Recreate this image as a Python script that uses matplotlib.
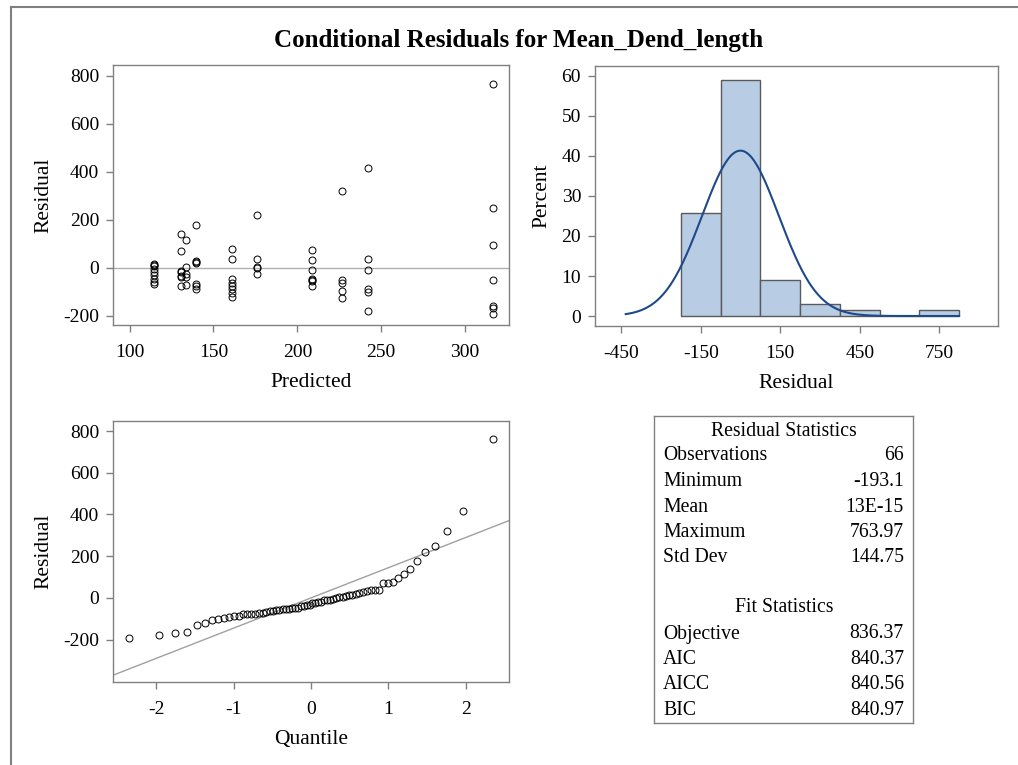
from statistics import NormalDist
import numpy as np
import matplotlib.pyplot as plt
from matplotlib.lines import Line2D

W, H = 1018, 765

# predicted values (columns of points) and their conditional residuals
predicted_levels = [114.3, 130.4, 133.7, 139.3, 161.1, 175.8, 208.7, 226.8, 242.3, 316.7]
residuals_by_level = [
    [15, 12, 7, -5, -18, -32, -48, -60, -70],
    [140, 71, -12, -18, -35, -40, -78],
    [117, 3, -26, -37, -72],
    [176, 29, 24, 18, -68, -76, -87],
    [76, 36, -47, -65, -78, -90, -106, -121],
    [219, 36, 3, -1, -25],
    [72, 31, -11, -46, -51, -57, -78],
    [319, -53, -64, -97, -128],
    [417, 36, -8, -89, -103, -179],
    [764, 250, 96, -51, -161, -168, -193],
]

# histogram of residuals (percent per bin, bin width 150)
hist_mid = [-150, 0, 150, 300, 450, 600, 750]
hist_pct = [25.76, 59.09, 9.09, 3.03, 1.52, 0.0, 1.52]
bin_width = 150

# summary tables
resid_labels = ["Observations", "Minimum", "Mean", "Maximum", "Std Dev"]
resid_values = ["66", "-193.1", "13E-15", "763.97", "144.75"]
fit_labels = ["Objective", "AIC", "AICC", "BIC"]
fit_values = ["836.37", "840.37", "840.56", "840.97"]
resid_mean = 0.0
resid_std = 144.75

plt.rcParams['font.family'] = ['Liberation Serif', 'DejaVu Serif']
plt.rcParams['axes.unicode_minus'] = False
GRAY = '#808080'
TICK_FS = 14
LABEL_FS = 15.5

x_pred = np.concatenate([[p] * len(r) for p, r in zip(predicted_levels, residuals_by_level)])
y_res = np.concatenate([np.array(r, dtype=float) for r in residuals_by_level])

fig = plt.figure(figsize=(W / 100, H / 100), dpi=100)


def px_axes(l, t, r, b):
    return fig.add_axes([l / W, 1 - b / H, (r - l) / W, (b - t) / H])


def style(ax):
    for s in ax.spines.values():
        s.set_color(GRAY)
        s.set_linewidth(1)
    ax.tick_params(direction='out', length=5, width=1, color=GRAY, labelsize=TICK_FS)
    ax.tick_params(axis='x', pad=9)
    ax.tick_params(axis='y', pad=5)
    ax.xaxis.labelpad = 8
    ax.yaxis.labelpad = 7


# outer frame
fig.add_artist(Line2D([11 / W, 1], [1 - 7 / H, 1 - 7 / H], color=GRAY, lw=1.5))
fig.add_artist(Line2D([11 / W, 11 / W], [0, 1 - 7 / H], color=GRAY, lw=1.5))

fig.text(519 / W, 1 - 41 / H, "Conditional Residuals for Mean_Dend_length",
         ha='center', va='center', fontsize=18, fontweight='bold')

# residual vs predicted
ax1 = px_axes(113, 65, 509, 325)
ax1.axhline(0, color='#b0b0b0', lw=1, zorder=1)
ax1.plot(x_pred, y_res, 'o', mfc='none', mec='black', ms=5, mew=0.7, zorder=2)
ax1.set_xlim(90.1, 326.2)
ax1.set_ylim(-239, 844)
ax1.set_xticks([100, 150, 200, 250, 300])
ax1.set_yticks([-200, 0, 200, 400, 600, 800])
ax1.set_xlabel("Predicted", fontsize=LABEL_FS)
ax1.set_ylabel("Residual", fontsize=LABEL_FS)
style(ax1)

# histogram with normal curve
ax2 = px_axes(595, 66, 998, 326)
ax2.bar(hist_mid, hist_pct, width=bin_width, color='#b8cce4', edgecolor='#5a5a5a', lw=1, zorder=2)
xs = np.linspace(-433, 825, 400)
nd = NormalDist(resid_mean, resid_std)
ax2.plot(xs, [100 * bin_width * nd.pdf(v) for v in xs], color='#1f4a8a', lw=1.5, zorder=3)
ax2.set_xlim(-549, 972)
ax2.set_ylim(-2.5, 62.5)
ax2.set_xticks([-450, -150, 150, 450, 750])
ax2.set_yticks([0, 10, 20, 30, 40, 50, 60])
ax2.set_xlabel("Residual", fontsize=LABEL_FS)
ax2.set_ylabel("Percent", fontsize=LABEL_FS)
style(ax2)

# normal quantile plot
ax3 = px_axes(113, 421, 509, 682)
ys = np.sort(y_res)
n = len(ys)
q = [NormalDist().inv_cdf((i + 1 - 0.375) / (n + 0.25)) for i in range(n)]
ax3.set_xlim(-2.56, 2.56)
ax3.set_ylim(-403, 848)
ax3.plot([-2.56, 2.56], [resid_mean - 2.56 * resid_std, resid_mean + 2.56 * resid_std],
         color='#a0a0a0', lw=1, zorder=1)
ax3.plot(q, ys, 'o', mfc='none', mec='black', ms=5, mew=0.7, zorder=2)
ax3.set_xticks([-2, -1, 0, 1, 2])
ax3.set_yticks([-200, 0, 200, 400, 600, 800])
ax3.set_xlabel("Quantile", fontsize=LABEL_FS)
ax3.set_ylabel("Residual", fontsize=LABEL_FS)
style(ax3)

# statistics table
ax4 = px_axes(654, 416, 913, 723)
ax4.set_xticks([])
ax4.set_yticks([])
for s in ax4.spines.values():
    s.set_color(GRAY)
    s.set_linewidth(1)


def ftext(x, y, s, ha='left'):
    fig.text(x / W, 1 - y / H, s, ha=ha, va='center', fontsize=14.2)


ftext(784, 431, "Residual Statistics", ha='center')
for i, (lab, val) in enumerate(zip(resid_labels, resid_values)):
    y = 456 + i * 25.5
    ftext(663, y, lab)
    ftext(904, y, val, ha='right')
ftext(784, 608, "Fit Statistics", ha='center')
for i, (lab, val) in enumerate(zip(fit_labels, fit_values)):
    y = 634 + i * 25.4
    ftext(663, y, lab)
    ftext(904, y, val, ha='right')

fig.savefig("out.png", dpi=100)
